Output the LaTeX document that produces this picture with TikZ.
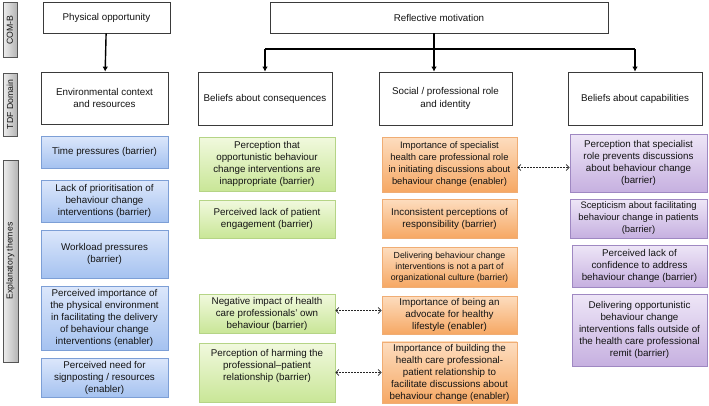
\documentclass[tikz,border=0pt]{standalone}
\usepackage{fontspec}
\setmainfont{Liberation Sans}
\usetikzlibrary{arrows.meta}
\definecolor{hdrline}{HTML}{3A3A3A}
\definecolor{txt}{HTML}{141414}
\definecolor{bluetop}{HTML}{DCE7FB}
\definecolor{bluebot}{HTML}{A5C2F0}
\definecolor{blueline}{HTML}{7D9FD6}
\definecolor{greentop}{HTML}{F1F9DE}
\definecolor{greenbot}{HTML}{C9E697}
\definecolor{greenline}{HTML}{B5D486}
\definecolor{orangetop}{HTML}{FDDDBF}
\definecolor{orangebot}{HTML}{F6A864}
\definecolor{orangeline}{HTML}{F0AD74}
\definecolor{purpletop}{HTML}{EEE6F7}
\definecolor{purplebot}{HTML}{C6B0E0}
\definecolor{purpleline}{HTML}{9F88C2}
\definecolor{sidel}{HTML}{EEEEEE}
\definecolor{sider}{HTML}{B5B5B5}
\definecolor{sideline}{HTML}{555555}
\begin{document}
\begin{tikzpicture}[x=1pt,y=-1pt,
  hdr/.style={draw=hdrline, line width=0.7pt, fill=white, align=center, text=txt,
    font=\fontsize{9.8}{12.3}\selectfont, inner sep=2pt},
  theme/.style={align=center, text=txt, font=\fontsize{9.8}{12}\selectfont,
    inner sep=2pt, line width=0.6pt},
  bluebox/.style={theme, draw=blueline, top color=bluetop, bottom color=bluebot},
  greenbox/.style={theme, draw=greenline, top color=greentop, bottom color=greenbot},
  orangebox/.style={theme, draw=orangeline, top color=orangetop, bottom color=orangebot},
  purplebox/.style={theme, draw=purpleline, top color=purpletop, bottom color=purplebot},
  side/.style={draw=sideline, line width=0.7pt, left color=sidel, right color=sider, inner sep=0pt},
  sidelabel/.style={rotate=90, text=txt, font=\fontsize{8.7}{10}\selectfont, inner sep=0pt},
  flow/.style={line width=1.4pt, black, -{Latex[length=5pt,width=5.5pt]}},
  flowline/.style={line width=1.4pt, black},
  link/.style={line width=0.8pt, black!85, dash pattern=on 2pt off 1pt,
    {Straight Barb[length=3pt,width=6pt]}-{Straight Barb[length=3pt,width=6pt]}}
]
\useasboundingbox (0,0) rectangle (709,405);

% side bars
\node[side, minimum width=14pt, minimum height=55pt] (s1) at (10,30) {};
\node[sidelabel] (s1t) at (s1) {COM-B};
\node[side, minimum width=14pt, minimum height=63pt] (s2) at (10,104.5) {};
\node[sidelabel] (s2t) at (s2) {TDF Domain};
\node[side, minimum width=15pt, minimum height=202pt] (s3) at (10.5,261) {};
\node[sidelabel] (s3t) at (s3) {Explanatory themes};

% header boxes
\node[hdr, minimum width=127pt, minimum height=31pt] (phys) at (106.5,17.5) {Physical opportunity};
\node[hdr, minimum width=127pt, minimum height=52pt] (env) at (104.5,98) {Environmental context\\and resources};
\node[hdr, minimum width=338pt, minimum height=31pt] (refl) at (439,17.5) {Reflective motivation};
\node[hdr, minimum width=134pt, minimum height=53pt] (cons) at (265,98.5) {Beliefs about consequences};
\node[hdr, minimum width=133pt, minimum height=53pt] (soc) at (445.5,98.5) {Social / professional role\\and identity};
\node[hdr, minimum width=134pt, minimum height=53pt] (cap) at (635,98.5) {Beliefs about capabilities};

% connectors
\draw[flow] (phys) -- (env);
\coordinate (j) at (434,49);
\draw[flowline] (refl.south -| j) -- (j);
\draw[flowline] (j) -- (j -| cons.north);
\draw[flowline] (j) -- (j -| cap.north);
\draw[flow] (j -| cons.north) -- (cons.north);
\draw[flow] (j) -- (j |- soc.north);
\draw[flow] (j -| cap.north) -- (cap.north);

% blue column
\node[bluebox, minimum width=127pt, minimum height=32pt] (b1) at (104.5,152) {Time pressures (barrier)};
\node[bluebox, minimum width=127pt, minimum height=42pt] (b2) at (104.5,201) {Lack of prioritisation of\\behaviour change\\interventions (barrier)};
\node[bluebox, minimum width=127pt, minimum height=48pt] (b3) at (104.5,254) {Workload pressures\\(barrier)};
\node[bluebox, minimum width=127pt, minimum height=64pt] (b4) at (104.5,318) {Perceived importance of\\the physical environment\\in facilitating the delivery\\of behaviour change\\interventions (enabler)};
\node[bluebox, minimum width=127pt, minimum height=39pt] (b5) at (104.5,377.5) {Perceived need for\\signposting / resources\\(enabler)};

% green column
\node[greenbox, minimum width=136pt, minimum height=54pt] (g1) at (267,164) {Perception that\\opportunistic behaviour\\change interventions are\\inappropriate (barrier)};
\node[greenbox, minimum width=136pt, minimum height=38pt] (g2) at (267,219) {Perceived lack of patient\\engagement (barrier)};
\node[greenbox, minimum width=136pt, minimum height=39pt] (g3) at (267,313.5) {Negative impact of health\\care professionals' own\\behaviour (barrier)};
\node[greenbox, minimum width=136pt, minimum height=59pt] (g4) at (267,372.5) {Perception of harming the\\professional--patient\\relationship (barrier)\\[4pt]};

% orange column
\node[orangebox, minimum width=135pt, minimum height=55pt, font=\fontsize{9.4}{12}\selectfont] (o1) at (449.5,164.5) {Importance of specialist\\health care professional role\\in initiating discussions about\\behaviour change (enabler)};
\node[orangebox, minimum width=135pt, minimum height=39pt] (o2) at (449.5,218.5) {Inconsistent perceptions of\\responsibility (barrier)};
\node[orangebox, minimum width=135pt, minimum height=40pt, font=\fontsize{8.8}{11.2}\selectfont] (o3) at (449.5,267) {Delivering behaviour change\\interventions is not a part of\\organizational culture (barrier)};
\node[orangebox, minimum width=135pt, minimum height=38pt] (o4) at (449.5,315) {Importance of being an\\advocate for healthy\\lifestyle (enabler)};
\node[orangebox, minimum width=135pt, minimum height=61pt] (o5) at (449.5,372.5) {Importance of building the\\health care professional-\\patient relationship to\\facilitate discussions about\\behaviour change (enabler)};

% purple column
\node[purplebox, minimum width=137pt, minimum height=58pt] (p1) at (638.5,163) {Perception that specialist\\role prevents discussions\\about behaviour change\\(barrier)};
\node[purplebox, minimum width=137pt, minimum height=39pt, font=\fontsize{9.4}{12}\selectfont] (p2) at (638.5,218.5) {Scepticism about facilitating\\behaviour change in patients\\(barrier)};
\node[purplebox, minimum width=135pt, minimum height=42pt] (p3) at (639.5,266) {Perceived lack of\\confidence to address\\behaviour change (barrier)};
\node[purplebox, minimum width=135pt, minimum height=72pt] (p4) at (639.5,330) {Delivering opportunistic\\behaviour change\\interventions falls outside of\\the health care professional\\remit (barrier)};

% dashed links
\draw[link] ([yshift=-3pt]o1.east) -- ([yshift=-3pt]o1.east -| p1.west);
\draw[link] ([yshift=3pt]g3.east) -- ([yshift=3pt]g3.east -| o4.west);
\draw[link] (g4.east) -- (g4.east -| o5.west);
\end{tikzpicture}
\end{document}
